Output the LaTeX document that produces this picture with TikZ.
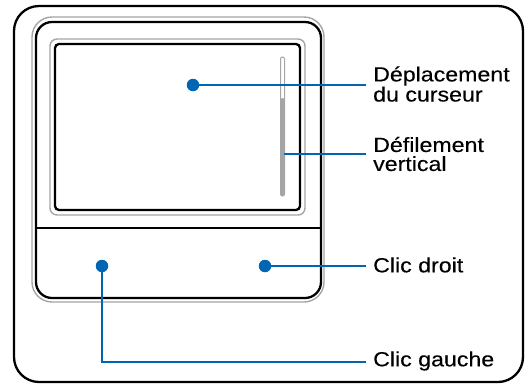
\documentclass[tikz,border=0pt]{standalone}
\usepackage{fontspec}
\newfontfamily\labfont[FakeStretch=1.13,FakeBold=0.25]{Liberation Sans}
\definecolor{padblue}{RGB}{0,102,179}
\definecolor{padgray}{RGB}{165,165,165}
\begin{document}
\begin{tikzpicture}[x=1pt,y=-1pt,
  blackline/.style={draw=black,line width=2.3pt},
  grayline/.style={draw=padgray,line width=1.4pt},
  conn/.style={draw=padblue,line width=2.6pt},
  dot/.style={circle,fill=padblue,inner sep=0pt,minimum size=12.5pt},
  lab/.style={anchor=west,inner xsep=7pt,inner ysep=0pt,align=left,
    font=\labfont\fontsize{20.5}{19}\selectfont}]
\useasboundingbox (0,0) rectangle (525,384);
% outer frame
\draw[blackline,rounded corners=25pt] (14,6) rectangle (523,382);
% pad
\draw[grayline,rounded corners=20pt] (32,17) rectangle (324,302);
\draw[blackline,rounded corners=16pt] (36,22) rectangle (321,298);
\draw[grayline,rounded corners=7pt] (50,39) rectangle (305,215);
\draw[blackline,rounded corners=4pt] (55,44) rectangle (300,210);
\draw[draw=black,line width=1.6pt] (36,228) -- (321,228);
% scrollbar
\draw[draw=padgray,line width=1pt,fill=white,rounded corners=2pt] (280.5,57) rectangle (284.5,196);
\fill[padgray,rounded corners=2pt] (280.5,98) rectangle (284.5,196);
% dots
\node[dot] (d1) at (193,85) {};
\node[dot] (d2) at (265,266) {};
\node[dot] (d3) at (102,266) {};
\coordinate (sc) at (284,154);
\coordinate (bend) at (102,362);
% labels
\node[lab] (l1) at (366,84) {Déplacement\\du curseur};
\node[lab] (l2) at (366,154) {Défilement\\vertical};
\node[lab] (l3) at (366,265) {Clic droit};
\node[lab] (l4) at (366,361) {Clic gauche};
% connectors
\draw[conn] (d1) -- (d1 -| l1.west);
\draw[conn] (sc) -- (sc -| l2.west);
\draw[conn] (d2) -- (d2 -| l3.west);
\draw[conn] (d3.center) -- (bend) -- (bend -| l4.west);
\end{tikzpicture}
\end{document}
